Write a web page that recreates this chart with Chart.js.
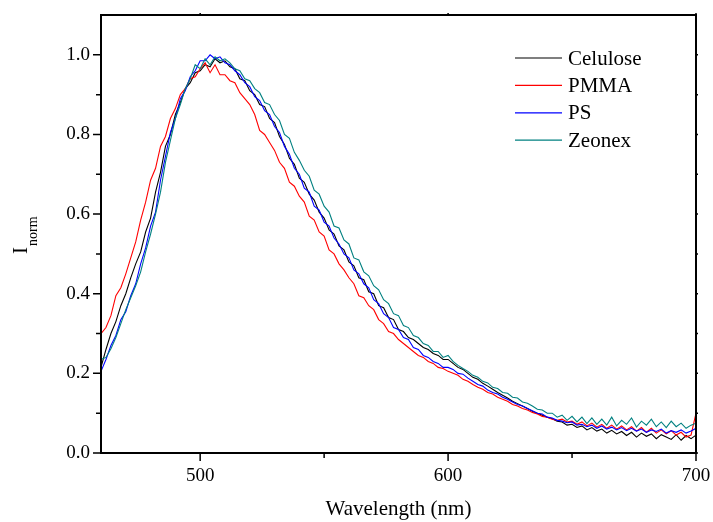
<!DOCTYPE html>
<html lang="en">

<head>
    <meta charset="UTF-8">
    <title>Inorm spectra</title>
    <script src="https://cdn.jsdelivr.net/npm/chart.js@4.4.1/dist/chart.umd.min.js"></script>
    <style>
        body { margin: 0; background: #fff; }
        #chart { display: block; }
    </style>
</head>

<body>

    <canvas id="chart" width="713" height="522"></canvas>

    <script>

        // wavelength grid (nm), every 2 nm
        const wavelength = [
            460, 462, 464, 466, 468, 470, 472, 474, 476, 478, 480, 482, 484, 486, 488, 490, 492, 494, 496, 498,
            500, 502, 504, 506, 508, 510, 512, 514, 516, 518, 520, 522, 524, 526, 528, 530, 532, 534, 536, 538,
            540, 542, 544, 546, 548, 550, 552, 554, 556, 558, 560, 562, 564, 566, 568, 570, 572, 574, 576, 578,
            580, 582, 584, 586, 588, 590, 592, 594, 596, 598, 600, 602, 604, 606, 608, 610, 612, 614, 616, 618,
            620, 622, 624, 626, 628, 630, 632, 634, 636, 638, 640, 642, 644, 646, 648, 650, 652, 654, 656, 658,
            660, 662, 664, 666, 668, 670, 672, 674, 676, 678, 680, 682, 684, 686, 688, 690, 692, 694, 696, 698,
            700
        ];

        // values
        const celulose = [
            .215, .26, .30, .33, .37, .40, .44, .475, .505, .555, .59, .655, .705, .77, .80, .85, .88, .915, .93, .955,
            .96, .975, .97, .99, .98, .985,
            .97, .965, .94, .935, .91, .9, .875, .87, .84, .83, .795, .775, .74, .725, .69, .68, .65, .635, .605, .59,
            .56, .55, .52, .51, .48, .47, .44, .435, .405, .4, .37, .365, .34, .335, .31, .305, .29, .285, .275, .265,
            .26, .25, .245, .235, .235,
            .225, .215, .21, .2, .19, .185, .175, .168, .16, .152, .145, .138, .13, .124, .118, .112, .105, .1, .095, .09,
            .086, .08, .078, .07, .072, .064, .068, .058, .064, .055, .06, .05, .057, .048, .054, .044, .052, .04, .05, .042,
            .048, .036, .046, .04, .034, .046, .032, .044, .036, .045
        ];
        const pmma = [
            .30, .315, .345, .395, .415, .45, .49, .53, .585, .63, .685, .715, .77, .795, .84, .865, .9, .915, .94, .945,
            .965, .98, .955, .975, .95, .95,
            .935, .93, .905, .89, .875, .85, .81, .8, .78, .76, .73, .715, .68, .67, .645, .63, .595, .585, .555, .545,
            .51, .5, .475, .46, .44, .425, .395, .39, .37, .36, .335, .325, .305, .3, .285, .275, .265, .255, .245, .24,
            .23, .225, .215, .212, .205,
            .2, .195, .185, .18, .172, .165, .16, .152, .148, .14, .135, .13, .122, .118, .112, .108, .102, .098, .092, .09,
            .085, .082, .085, .078, .08, .072, .078, .068, .075, .065, .072, .062, .07, .06, .068, .058, .066, .055, .064, .052,
            .062, .05, .058, .048, .056, .045, .052, .04, .045, .1
        ];
        const ps = [
            .205, .235, .27, .295, .335, .355, .395, .425, .475, .515, .57, .605, .685, .745, .805, .84, .89, .91, .945, .96,
            .985, .985, 1.0, .99, .995, .98,
            .975, .96, .95, .93, .92, .895, .885, .86, .85, .82, .805, .77, .75, .715, .7, .665, .655, .62, .61, .58,
            .57, .54, .525, .5, .49, .46, .45, .425, .415, .385, .375, .35, .34, .315, .31, .29, .285, .265, .26, .245,
            .24, .23, .225, .215, .215,
            .21, .2, .198, .188, .18, .172, .168, .158, .152, .148, .14, .135, .128, .122, .118, .112, .106, .1, .098, .09,
            .088, .082, .08, .076, .078, .07, .072, .066, .07, .062, .068, .06, .065, .058, .064, .056, .062, .055, .06, .052,
            .058, .054, .06, .05, .056, .052, .058, .05, .055, .062
        ];
        const zeonex = [
            .235, .24, .262, .29, .325, .36, .39, .42, .455, .505, .55, .6, .655, .73, .785, .84, .875, .915, .94, .975,
            .965, .99, .975, .995, .985, .99,
            .98, .965, .96, .94, .935, .915, .905, .88, .875, .85, .835, .8, .79, .755, .735, .71, .695, .66, .65, .62,
            .605, .57, .565, .535, .525, .49, .485, .455, .445, .42, .41, .385, .375, .35, .345, .32, .315, .295, .29, .275,
            .27, .255, .255, .24, .245,
            .23, .22, .212, .205, .195, .19, .18, .176, .165, .162, .152, .15, .14, .138, .128, .125, .118, .11, .108, .1,
            .1, .09, .095, .082, .092, .078, .09, .074, .088, .072, .085, .07, .09, .068, .082, .072, .088, .065, .08, .07,
            .085, .066, .078, .064, .08, .066, .075, .062, .07, .075
        ];

        const seriesNames = ['Celulose', 'PMMA', 'PS', 'Zeonex'];
        const seriesColors = ['#000000', '#ff0000', '#0000ff', '#008080'];

        // axis tick positions
        const xMajor = [500, 600, 700];
        const xMinor = [550, 650];
        const yMajor = [0, 0.2, 0.4, 0.6, 0.8, 1.0];
        const yMinor = [0.1, 0.3, 0.5, 0.7, 0.9];

        const serif = "'Liberation Serif', 'Times New Roman', serif";

        // frame, tick marks, y title and legend drawn on top
        const framePlugin = {
            id: 'frame',
            afterDraw(chart) {
                const ctx = chart.ctx;
                const a = chart.chartArea;
                const sx = chart.scales.x;
                const sy = chart.scales.y;
                ctx.save();
                ctx.strokeStyle = '#000';
                ctx.lineWidth = 2;
                ctx.strokeRect(a.left, a.top, a.right - a.left, a.bottom - a.top);

                ctx.lineWidth = 1.5;
                ctx.beginPath();
                xMajor.forEach(v => {
                    const px = sx.getPixelForValue(v);
                    ctx.moveTo(px, a.bottom); ctx.lineTo(px, a.bottom + 8);
                    ctx.moveTo(px, a.top); ctx.lineTo(px, a.top - 2);
                });
                xMinor.forEach(v => {
                    const px = sx.getPixelForValue(v);
                    ctx.moveTo(px, a.bottom); ctx.lineTo(px, a.bottom + 5);
                });
                yMajor.forEach(v => {
                    const py = sy.getPixelForValue(v);
                    ctx.moveTo(a.left, py); ctx.lineTo(a.left - 8, py);
                    ctx.moveTo(a.right, py); ctx.lineTo(a.right + 2, py);
                });
                yMinor.forEach(v => {
                    const py = sy.getPixelForValue(v);
                    ctx.moveTo(a.left, py); ctx.lineTo(a.left - 5, py);
                    ctx.moveTo(a.right, py); ctx.lineTo(a.right + 2, py);
                });
                ctx.stroke();

                // y title: I with subscript "norm"
                ctx.fillStyle = '#000';
                ctx.translate(27, 254);
                ctx.rotate(-Math.PI / 2);
                ctx.textBaseline = 'alphabetic';
                ctx.textAlign = 'left';
                ctx.font = '21px ' + serif;
                ctx.fillText('I', 0, 0);
                const w = ctx.measureText('I').width;
                ctx.font = '14px ' + serif;
                ctx.fillText('norm', w + 1, 10);
                ctx.restore();

                // legend
                ctx.save();
                ctx.font = '21px ' + serif;
                ctx.textBaseline = 'middle';
                ctx.textAlign = 'left';
                chart.data.datasets.forEach((ds, i) => {
                    const y = 58 + i * 27.4;
                    ctx.strokeStyle = ds.borderColor;
                    ctx.lineWidth = 1.2;
                    ctx.beginPath();
                    ctx.moveTo(515, y);
                    ctx.lineTo(562, y);
                    ctx.stroke();
                    ctx.fillStyle = '#000';
                    ctx.fillText(ds.label, 568, y + 1);
                });
                ctx.restore();
            }
        };

        const datasets = [celulose, pmma, ps, zeonex].map((vals, i) => ({
            label: seriesNames[i],
            data: wavelength.map((x, j) => ({ x: x, y: vals[j] })),
            borderColor: seriesColors[i],
            borderWidth: 1.1,
            pointRadius: 0,
            fill: false,
            tension: 0,
            order: 4 - i
        }));

        const ctx = document.getElementById('chart').getContext('2d');
        const myChart = new Chart(ctx, {
            type: 'line',
            data: { datasets: datasets },
            options: {
                responsive: false,
                animation: false,
                events: [],
                layout: { padding: { top: 15, right: 17, left: 0, bottom: 0 } },
                plugins: {
                    legend: { display: false },
                    tooltip: { enabled: false }
                },
                scales: {
                    x: {
                        type: 'linear',
                        min: 460,
                        max: 700,
                        grid: { display: false, drawTicks: false },
                        border: { display: false },
                        ticks: {
                            stepSize: 100,
                            includeBounds: false,
                            maxRotation: 0,
                            padding: 12,
                            color: '#000',
                            font: { family: serif, size: 19 }
                        },
                        title: {
                            display: true,
                            text: 'Wavelength (nm)',
                            color: '#000',
                            font: { family: serif, size: 21 },
                            padding: { top: 0, bottom: 0 }
                        },
                        afterFit(scale) {
                            scale.height = 69;
                            scale.paddingLeft = 0;
                            scale.paddingRight = 0;
                        }
                    },
                    y: {
                        min: 0,
                        max: 1.1,
                        grid: { display: false, drawTicks: false },
                        border: { display: false },
                        ticks: {
                            stepSize: 0.2,
                            includeBounds: false,
                            padding: 11,
                            color: '#000',
                            font: { family: serif, size: 19 },
                            callback: function (value) {
                                return value.toFixed(1);
                            }
                        },
                        afterFit(scale) {
                            scale.width = 101;
                            scale.paddingTop = 0;
                            scale.paddingBottom = 0;
                        }
                    }
                }
            },
            plugins: [framePlugin]
        });

    </script>

</body>

</html>
